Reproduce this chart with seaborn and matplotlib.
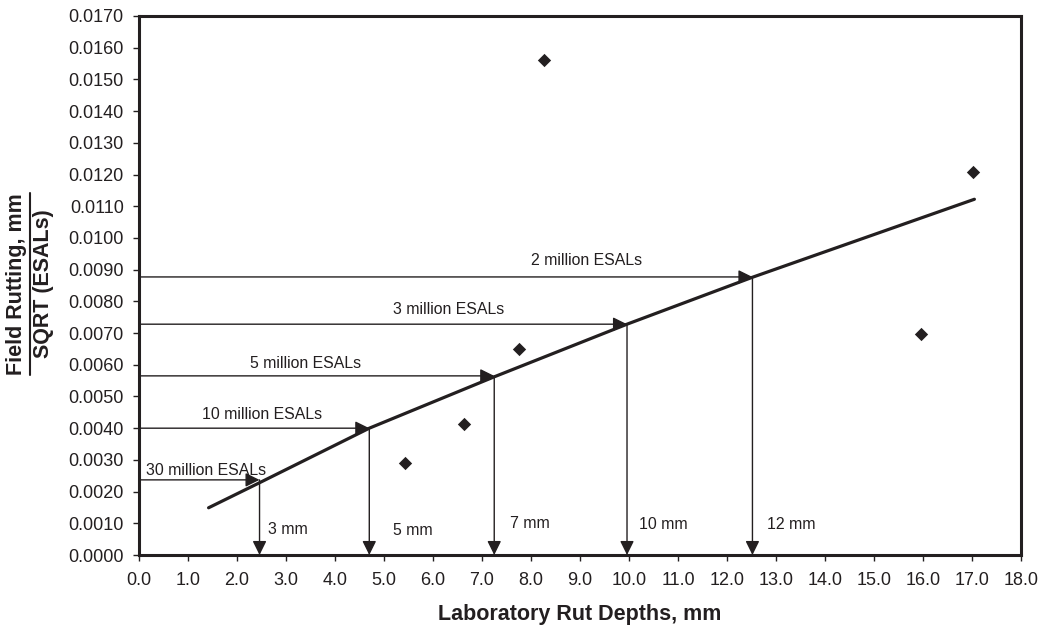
import numpy as np
import pandas as pd
import matplotlib
matplotlib.use("Agg")
import matplotlib.pyplot as plt
from matplotlib.lines import Line2D
import seaborn as sns

# Measured sections: laboratory rut depth vs. normalised field rutting
lab_rut = [5.43, 6.64, 7.76, 8.27, 15.97, 17.03]
field_rut = [0.00290, 0.00413, 0.00650, 0.01561, 0.00696, 0.01208]

# Fitted trend line
trend_x = [1.42, 2.46, 4.70, 7.25, 9.96, 12.52, 17.05]
trend_y = [0.00149, 0.00228, 0.00400, 0.00562, 0.00728, 0.00876, 0.01122]

# Traffic levels and the corresponding allowable laboratory rut depth
esal_labels = ["2 million ESALs", "3 million ESALs", "5 million ESALs",
               "10 million ESALs", "30 million ESALs"]
esal_levels = [0.00877, 0.00728, 0.00565, 0.00400, 0.00237]
rut_labels = ["12 mm", "10 mm", "7 mm", "5 mm", "3 mm"]
rut_limits = [12.52, 9.96, 7.25, 4.70, 2.46]

x_ticks = np.arange(0, 19, 1)
y_ticks = np.arange(0, 0.0171, 0.001)

sns.set_style("white")
plt.rcParams["font.family"] = ["Liberation Sans", "DejaVu Sans"]

ink = "#231f20"
fig = plt.figure(figsize=(10.42, 6.27), dpi=100)
ax = fig.add_axes([0.1334, 0.1148, 0.8464, 0.8597])

points = pd.DataFrame({"lab": lab_rut, "field": field_rut})
trend = pd.DataFrame({"x": trend_x, "y": trend_y})

sns.lineplot(data=trend, x="x", y="y", ax=ax, color=ink, linewidth=2.3,
             sort=True, estimator=None, zorder=3)
sns.scatterplot(data=points, x="lab", y="field", ax=ax, marker="D", s=46,
                color=ink, edgecolor=ink, linewidth=0, zorder=4)

arrow = dict(arrowstyle="-|>,head_length=0.85,head_width=0.42",
             mutation_scale=10, color=ink, lw=1.0, shrinkA=0, shrinkB=0)

# Label anchors (data units) for the traffic and rut-depth annotations
esal_text_pos = [(9.13, 0.00930, "center"), (6.31, 0.00773, "center"),
                 (2.27, 0.00605, "left"), (1.29, 0.00442, "left"),
                 (0.14, 0.00268, "left")]
rut_text_pos = [(12.82, 0.00095), (10.21, 0.00095), (7.57, 0.00098),
                (5.18, 0.00076), (2.63, 0.00082)]

for lvl, lim, lab, (tx, ty, ha) in zip(esal_levels, rut_limits, esal_labels,
                                        esal_text_pos):
    ax.annotate("", xy=(lim, lvl), xytext=(0, lvl), arrowprops=arrow,
                zorder=2)
    ax.annotate("", xy=(lim, 0), xytext=(lim, lvl), arrowprops=arrow,
                zorder=2, annotation_clip=False)
    ax.text(tx, ty, lab, ha=ha, va="center", fontsize=11.4, color=ink)

for lab, (tx, ty) in zip(rut_labels, rut_text_pos):
    ax.text(tx, ty, lab, ha="left", va="center", fontsize=11.4, color=ink)

ax.set_xlim(0, 18)
ax.set_ylim(0, 0.017)
ax.set_xticks(x_ticks)
ax.set_xticklabels([f"{v:.1f}" for v in x_ticks])
ax.set_yticks(y_ticks)
ax.set_yticklabels([f"{v:.4f}" for v in y_ticks])
ax.tick_params(axis="both", which="both", direction="out", length=4.5,
               width=1, color=ink, labelsize=13, labelcolor=ink,
               bottom=True, left=True)
ax.tick_params(axis="y", pad=6.5)
ax.tick_params(axis="x", pad=7.5)
for side in ax.spines.values():
    side.set_visible(True)
    side.set_color(ink)
    side.set_linewidth(2.2)

ax.set_xlabel("Laboratory Rut Depths, mm", fontsize=15.5, fontweight="bold",
              color=ink, labelpad=11)
ax.set_ylabel("")

# Y-axis title drawn as a fraction: numerator underlined over denominator
num = fig.text(17 / 1042, 1 - 284 / 627, "Field Rutting, mm", rotation=90,
               ha="center", va="center", fontsize=15.5, fontweight="bold",
               color=ink)
den = fig.text(44 / 1042, 1 - 284 / 627, "SQRT (ESALs)", rotation=90,
               ha="center", va="center", fontsize=15.5, fontweight="bold",
               color=ink)
fig.canvas.draw()
bb = num.get_window_extent().transformed(fig.transFigure.inverted())
ux = 29.5 / 1042
fig.add_artist(Line2D([ux, ux], [bb.y0, bb.y1], color=ink, lw=1.5,
                      transform=fig.transFigure))

fig.savefig("out.png", dpi=100)
